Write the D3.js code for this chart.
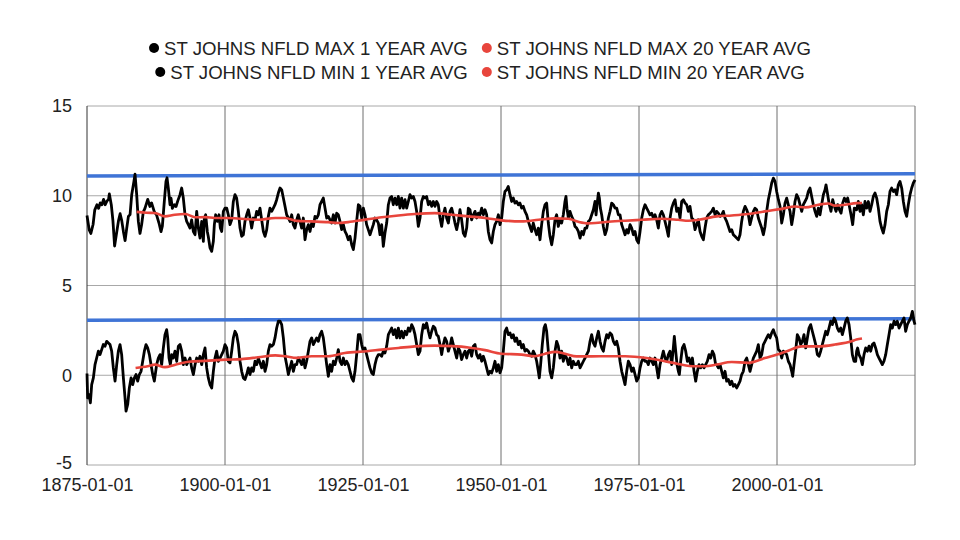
<!DOCTYPE html>
<html><head><meta charset="utf-8">
<script src="https://cdn.jsdelivr.net/npm/d3@7"></script>
<style>body{margin:0;background:#fff}svg{display:block;font-family:"Liberation Sans",Arial,sans-serif}</style>
</head><body><svg id="c" width="960" height="540"></svg>
<script>
const seriesNames = ["ST JOHNS NFLD MAX 1 YEAR AVG","ST JOHNS NFLD MAX 20 YEAR AVG","ST JOHNS NFLD MIN 1 YEAR AVG","ST JOHNS NFLD MIN 20 YEAR AVG"];
const yTicks = [-5,0,5,10,15];
const xTickYears = [1875,1900,1925,1950,1975,2000];
const xTickLabels = ["1875-01-01","1900-01-01","1925-01-01","1950-01-01","1975-01-01","2000-01-01"];

const max1 = [[1875.0,8.9],[1875.4,8.1],[1875.7,7.9],[1876.1,8.4],[1876.4,9.2],[1876.8,9.5],[1877.1,9.3],[1877.4,9.6],[1877.7,9.5],[1878.0,9.8],[1878.3,9.5],[1878.6,9.7],[1878.9,9.8],[1879.05,10.1],[1879.4,9.5],[1879.7,8.6],[1880.0,7.2],[1880.4,8.0],[1880.7,8.6],[1881.0,9.0],[1881.3,8.6],[1881.6,8.0],[1881.9,7.5],[1882.2,8.2],[1882.5,8.85],[1882.8,8.95],[1883.1,10.06],[1883.5,10.8],[1883.7,11.2],[1884.0,10.06],[1884.3,8.57],[1884.6,7.9],[1884.9,8.4],[1885.2,9.1],[1885.5,9.3],[1886.0,9.8],[1886.4,9.4],[1886.7,9.6],[1887.2,9.1],[1887.6,8.94],
[1888.04,8.48],[1888.41,8.0],[1888.65,8.3],[1889.01,9.7],[1889.31,10.8],[1889.5,11.0],[1889.74,10.4],[1890.04,9.5],[1890.22,9.87],[1890.46,9.3],[1890.82,9.5],[1891.13,9.4],[1891.43,9.7],[1891.85,10.06],[1892.15,10.43],[1892.45,9.87],[1892.76,8.94],[1893.06,8.57],[1893.36,8.39],[1893.66,8.2],[1893.96,8.66],[1894.27,8.0],[1894.57,7.83],[1894.87,9.13],[1895.17,8.2],[1895.47,7.64],[1895.78,8.57],[1896.08,7.46],[1896.26,8.76],[1896.5,8.94],[1896.8,8.0],[1896.98,7.72],[1897.29,7.09],[1897.59,6.9],[1897.89,7.46],[1898.07,8.39],[1898.31,8.94],[1898.62,8.57],[1898.92,8.94],[1899.16,8.2],[1899.4,8.01],[1899.7,9.13],[1900.0,9.31],[1900.31,9.31],
[1900.6,8.94],[1900.91,8.39],[1901.21,8.66],[1901.51,9.68],[1901.81,10.06],[1902.11,9.87],[1902.42,9.13],[1902.72,8.2],[1903.02,7.74],[1903.32,7.83],[1903.62,8.57],[1903.93,8.94],[1904.23,9.22],[1904.53,8.76],[1904.83,8.2],[1905.13,8.76],[1905.44,8.66],[1905.74,9.13],[1906.04,8.94],[1906.34,9.31],[1906.64,8.66],[1906.95,8.01],[1907.25,7.74],[1907.55,8.1],[1907.85,8.85],[1908.15,9.31],[1908.46,9.13],[1908.76,9.31],[1909.06,9.5],[1909.36,9.78],[1909.66,10.15],[1909.97,10.43],[1910.27,10.33],[1910.57,9.87],[1910.87,9.41],[1911.17,8.94],[1911.48,8.76],[1911.78,8.57],[1912.08,8.94],[1912.38,8.39],[1912.68,8.2],[1912.99,8.66],
[1913.28,8.94],[1913.59,8.57],[1913.89,8.2],[1914.19,8.76],[1914.49,7.55],[1914.79,8.11],[1915.1,8.39],[1915.4,8.01],[1915.7,8.48],[1916.0,8.29],[1916.3,8.85],[1916.61,8.76],[1916.91,8.94],[1917.21,9.5],[1917.51,9.68],[1917.81,9.87],[1918.12,9.31],[1918.42,8.76],[1918.72,8.85],[1919.02,8.66],[1919.32,8.48],[1919.63,8.94],[1919.93,8.48],[1920.23,9.03],[1920.53,8.94],[1920.83,8.57],[1921.14,8.11],[1921.44,8.39],[1921.74,8.01],[1922.04,7.83],[1922.34,7.55],[1922.65,7.74],[1922.95,7.27],[1923.25,7.0],[1923.55,7.64],[1923.85,8.57],[1924.16,9.5],[1924.46,9.41],[1924.76,8.76],[1925.06,9.31],[1925.36,8.94],
[1925.66,8.39],[1925.96,8.11],[1926.27,7.83],[1926.57,8.11],[1926.87,8.39],[1927.17,8.76],[1927.47,8.66],[1927.78,8.48],[1928.08,7.83],[1928.38,8.39],[1928.68,7.18],[1928.98,7.92],[1929.29,8.48],[1929.59,9.5],[1929.89,9.87],[1930.19,9.96],[1930.49,9.5],[1930.8,9.87],[1931.1,9.5],[1931.4,9.96],[1931.7,9.31],[1932.0,9.87],[1932.31,9.31],[1932.61,9.78],[1932.91,9.31],[1933.21,9.68],[1933.51,10.06],[1933.82,9.87],[1934.12,9.96],[1934.42,9.68],[1934.72,9.13],[1935.02,8.29],[1935.33,8.76],[1935.63,9.68],[1935.93,9.96],[1936.23,9.87],[1936.53,9.96],[1936.84,9.5],[1937.14,9.68],[1937.44,9.41],[1937.74,9.68],[1938.04,9.41],
[1938.34,9.68],[1938.64,9.5],[1938.95,8.76],[1939.25,8.29],[1939.55,8.94],[1939.85,9.31],[1940.15,8.76],[1940.46,8.48],[1940.76,9.13],[1941.06,9.31],[1941.36,8.94],[1941.66,8.48],[1941.97,8.11],[1942.27,8.57],[1942.57,9.22],[1942.87,8.66],[1943.17,7.92],[1943.48,7.74],[1943.78,8.2],[1944.08,9.31],[1944.38,9.22],[1944.68,8.66],[1944.99,8.94],[1945.29,9.13],[1945.59,8.76],[1945.89,9.03],[1946.19,8.94],[1946.5,9.31],[1946.8,8.94],[1947.1,9.22],[1947.4,8.94],[1947.7,8.01],[1948.01,7.55],[1948.31,7.37],[1948.61,8.01],[1948.91,8.39],[1949.21,8.57],[1949.52,8.94],[1949.82,8.39],[1950.12,8.76],[1950.42,9.68],[1950.72,10.24],
[1951.02,10.33],[1951.32,10.52],[1951.63,10.06],[1951.93,9.68],[1952.23,9.87],[1952.53,9.59],[1952.83,9.68],[1953.14,9.5],[1953.44,9.59],[1953.74,9.31],[1954.04,9.41],[1954.34,9.13],[1954.65,8.94],[1954.95,8.57],[1955.25,8.29],[1955.55,8.01],[1955.85,8.48],[1956.16,8.11],[1956.46,7.83],[1956.76,8.2],[1957.06,7.55],[1957.36,8.39],[1957.67,9.13],[1957.97,9.5],[1958.27,9.59],[1958.57,8.48],[1958.87,7.74],[1959.18,7.27],[1959.48,7.83],[1959.78,8.66],[1960.08,8.94],[1960.38,8.29],[1960.69,8.66],[1960.99,8.48],[1961.29,8.94],[1961.59,9.68],[1961.77,9.96],[1961.95,9.31],[1962.2,8.76],[1962.5,9.13],[1962.8,8.85],[1963.1,8.66],[1963.4,8.29],
[1963.71,8.2],[1964.01,8.01],[1964.32,7.64],[1964.62,8.01],[1964.92,7.83],[1965.22,8.2],[1965.52,8.2],[1965.83,8.57],[1966.13,8.66],[1966.43,8.94],[1966.73,9.22],[1967.03,9.68],[1967.22,8.94],[1967.4,9.5],[1967.64,10.15],[1967.82,9.87],[1968.0,9.31],[1968.24,8.94],[1968.54,8.29],[1968.85,7.83],[1969.15,8.11],[1969.45,8.76],[1969.75,9.13],[1970.05,9.59],[1970.36,9.5],[1970.66,9.31],[1970.96,9.31],[1971.26,8.94],[1971.56,8.94],[1971.87,8.39],[1972.17,8.11],[1972.47,7.83],[1972.77,8.11],[1973.07,7.92],[1973.38,8.39],[1973.68,8.2],[1973.98,7.83],[1974.28,8.01],[1974.58,7.55],[1974.89,7.37],[1975.19,8.01],[1975.49,8.76],[1975.79,9.22],[1976.09,9.5],
[1976.39,9.31],[1976.69,9.13],[1976.99,8.94],[1977.3,9.03],[1977.6,8.76],[1977.9,8.94],[1978.2,8.66],[1978.5,8.2],[1978.81,8.94],[1979.11,9.13],[1979.41,8.94],[1979.71,8.57],[1980.01,8.2],[1980.32,7.74],[1980.62,8.76],[1980.92,9.31],[1981.22,9.59],[1981.53,9.78],[1981.83,9.13],[1982.13,9.31],[1982.43,8.76],[1982.73,9.68],[1983.04,9.78],[1983.34,9.59],[1983.64,9.5],[1983.94,9.13],[1984.24,9.41],[1984.55,8.76],[1984.85,8.66],[1985.15,8.11],[1985.45,8.39],[1985.75,8.66],[1986.06,8.01],[1986.36,7.74],[1986.66,7.55],[1986.96,8.2],[1987.26,8.76],[1987.57,8.94],[1987.87,9.03],[1988.17,9.13],[1988.47,9.31],[1988.77,8.94],
[1989.07,9.13],[1989.37,9.03],[1989.68,8.85],[1989.98,8.94],[1990.28,9.13],[1990.58,8.76],[1990.88,8.57],[1991.19,8.29],[1991.49,8.01],[1991.79,8.11],[1992.09,7.83],[1992.39,7.74],[1992.7,7.64],[1993.0,7.55],[1993.3,7.83],[1993.6,8.57],[1993.9,9.13],[1994.21,9.41],[1994.51,9.22],[1994.81,8.94],[1995.11,8.39],[1995.41,8.76],[1995.72,9.13],[1996.02,9.31],[1996.32,9.22],[1996.62,8.76],[1996.92,8.48],[1997.23,8.2],[1997.53,7.83],[1997.83,8.29],[1998.13,9.13],[1998.43,9.78],[1998.74,10.24],[1999.04,10.71],[1999.34,10.98],[1999.64,10.8],[1999.94,10.24],[2000.25,9.78],[2000.55,9.41],[2000.85,8.48],[2001.15,8.94],[2001.45,9.59],
[2001.75,9.87],[2002.05,9.5],[2002.36,9.13],[2002.66,8.39],[2002.96,8.94],[2003.26,9.68],[2003.56,10.06],[2003.87,9.87],[2004.17,9.5],[2004.47,9.13],[2004.77,9.5],[2005.07,9.68],[2005.38,9.87],[2005.68,10.24],[2005.98,10.43],[2006.28,9.96],[2006.58,9.5],[2006.89,9.13],[2007.19,8.85],[2007.49,9.31],[2007.79,8.94],[2008.09,9.5],[2008.4,10.06],[2008.7,10.33],[2008.88,10.61],[2009.18,10.06],[2009.48,9.5],[2009.78,9.13],[2010.09,9.78],[2010.39,9.41],[2010.69,9.13],[2010.99,9.5],[2011.3,9.22],[2011.6,9.03],[2011.9,9.59],[2012.2,9.87],[2012.5,9.68],[2012.8,9.87],[2013.11,9.41],[2013.41,8.94],[2013.71,8.39],[2014.01,9.31],
[2014.43,9.22],[2014.73,9.68],[2015.04,9.13],[2015.34,9.5],[2015.64,8.94],[2015.94,9.68],[2016.24,9.31],[2016.55,9.68],[2016.85,9.13],[2017.15,9.5],[2017.45,9.96],[2017.75,10.15],[2018.06,9.87],[2018.36,9.31],[2018.66,8.57],[2018.96,8.2],[2019.26,7.92],[2019.57,8.39],[2019.87,9.13],[2020.17,9.5],[2020.47,10.24],[2020.77,10.43],[2021.08,10.24],[2021.38,10.33],[2021.68,10.06],[2021.98,10.61],[2022.28,10.8],[2022.59,10.43],[2022.89,9.68],[2023.19,9.13],[2023.49,8.85],[2023.79,9.5],[2024.1,10.06],[2024.4,10.43],[2024.7,10.71],[2025.0,10.89]];

const min1 = [[1875.0,0.1],[1875.12,-1.26],[1875.36,-1.08],[1875.61,-1.54],[1875.85,-0.52],[1876.15,-0.15],[1876.45,0.59],[1876.75,0.96],[1877.06,1.34],[1877.36,1.15],[1877.66,1.43],[1877.96,1.71],[1878.26,1.62],[1878.57,1.89],[1878.87,1.8],[1879.17,1.71],[1879.47,1.34],[1879.77,0.41],[1880.08,-0.33],[1880.38,0.59],[1880.68,1.34],[1880.98,1.71],[1881.28,1.15],[1881.59,-0.15],[1881.89,-1.26],[1882.07,-2.0],[1882.37,-1.63],[1882.67,-0.71],[1882.98,-0.15],[1883.28,-0.52],[1883.58,-0.15],[1883.88,0.04],[1884.18,-0.33],[1884.48,0.04],[1884.79,0.22],[1885.09,0.78],[1885.39,1.34],[1885.69,1.71],[1885.99,1.52],[1886.3,1.15],[1886.6,0.59],[1886.9,0.04],[1887.2,-0.33],
[1887.62,0.59],[1887.92,0.96],[1888.23,1.15],[1888.53,0.59],[1888.83,1.52],[1889.13,2.26],[1889.43,2.54],[1889.62,2.08],[1889.86,0.96],[1890.1,0.59],[1890.34,1.15],[1890.64,0.96],[1890.94,1.34],[1891.25,0.78],[1891.55,1.62],[1891.85,1.71],[1892.15,1.34],[1892.45,0.59],[1892.76,0.96],[1893.06,0.59],[1893.36,0.78],[1893.66,0.96],[1893.96,0.41],[1894.27,0.04],[1894.57,0.59],[1894.87,0.96],[1895.17,0.78],[1895.47,1.06],[1895.78,0.59],[1896.08,1.15],[1896.38,1.52],[1896.68,0.41],[1896.98,-0.15],[1897.29,-0.52],[1897.59,-0.71],[1897.89,0.22],[1898.19,0.96],[1898.49,1.34],[1898.79,0.78],[1899.1,0.96],[1899.4,1.15],[1899.7,1.34],[1900.0,1.71],[1900.31,1.52],
[1900.6,0.78],[1900.91,0.69],[1901.21,1.34],[1901.51,2.08],[1901.81,2.45],[1902.11,2.26],[1902.42,1.71],[1902.72,0.78],[1903.02,0.22],[1903.32,-0.15],[1903.62,-0.24],[1903.93,0.04],[1904.23,0.41],[1904.53,0.04],[1904.83,0.41],[1905.13,0.22],[1905.44,0.78],[1905.74,0.59],[1906.04,0.96],[1906.34,0.69],[1906.64,0.41],[1906.95,0.78],[1907.25,0.22],[1907.55,0.59],[1907.85,1.34],[1908.15,1.71],[1908.46,1.62],[1908.76,1.71],[1909.06,2.08],[1909.36,2.63],[1909.66,3.01],[1909.97,3.01],[1910.27,2.82],[1910.57,2.08],[1910.87,1.06],[1911.17,0.59],[1911.48,0.04],[1911.78,0.41],[1912.08,0.78],[1912.38,0.22],[1912.68,0.59],
[1912.98,0.59],[1913.28,0.96],[1913.59,0.78],[1913.89,0.59],[1914.19,0.96],[1914.49,0.41],[1914.79,0.78],[1915.1,1.34],[1915.4,1.89],[1915.7,2.08],[1916.0,1.71],[1916.3,1.89],[1916.61,2.08],[1916.91,1.89],[1917.21,2.26],[1917.51,2.45],[1917.81,2.08],[1918.12,1.34],[1918.42,0.59],[1918.72,-0.06],[1919.02,0.59],[1919.32,0.22],[1919.63,0.78],[1919.93,0.59],[1920.23,0.96],[1920.53,1.43],[1920.83,0.78],[1921.14,0.59],[1921.44,0.96],[1921.74,0.59],[1922.04,0.78],[1922.34,0.59],[1922.65,0.22],[1922.95,-0.15],[1923.25,-0.33],[1923.55,0.22],[1923.85,1.15],[1924.16,2.26],[1924.46,2.26],[1924.76,1.71],[1925.06,1.34],[1925.36,1.52],
[1925.66,1.15],[1925.96,0.78],[1926.27,0.41],[1926.57,0.13],[1926.87,0.04],[1927.17,0.59],[1927.47,0.96],[1927.78,1.15],[1928.08,1.15],[1928.38,1.06],[1928.68,1.34],[1928.98,1.24],[1929.29,1.62],[1929.59,2.26],[1929.89,2.45],[1930.19,2.63],[1930.49,2.26],[1930.8,2.54],[1931.1,2.08],[1931.4,2.63],[1931.7,2.08],[1932.0,2.45],[1932.31,2.08],[1932.61,2.45],[1932.91,2.26],[1933.21,2.63],[1933.51,2.45],[1933.82,2.82],[1934.12,2.63],[1934.42,2.26],[1934.72,1.71],[1935.02,1.15],[1935.33,1.34],[1935.63,2.26],[1935.93,2.82],[1936.23,2.63],[1936.53,2.91],[1936.84,2.45],[1937.14,2.08],[1937.44,2.45],[1937.74,2.73],[1938.04,2.63],
[1938.34,2.26],[1938.64,2.17],[1938.95,1.71],[1939.25,1.15],[1939.55,1.71],[1939.85,2.08],[1940.15,1.89],[1940.46,1.34],[1940.76,1.62],[1941.06,2.08],[1941.36,1.71],[1941.66,1.34],[1941.97,0.96],[1942.27,1.52],[1942.57,1.34],[1942.87,0.87],[1943.17,1.15],[1943.48,1.34],[1943.78,0.96],[1944.08,1.34],[1944.38,1.43],[1944.68,1.06],[1944.99,1.62],[1945.29,1.71],[1945.59,1.15],[1945.89,0.96],[1946.19,1.15],[1946.5,0.78],[1946.8,1.06],[1947.1,0.78],[1947.4,0.41],[1947.7,0.04],[1948.01,0.22],[1948.31,0.13],[1948.61,0.41],[1948.91,0.78],[1949.21,0.22],[1949.52,0.59],[1949.82,0.13],[1950.12,0.41],[1950.42,1.34],[1950.72,2.45],
[1951.02,2.63],[1951.32,2.26],[1951.63,2.36],[1951.93,2.08],[1952.23,2.26],[1952.53,1.89],[1952.83,2.08],[1953.14,1.71],[1953.44,1.89],[1953.74,1.52],[1954.04,1.71],[1954.34,1.34],[1954.65,1.43],[1954.95,1.34],[1955.25,1.15],[1955.55,1.06],[1955.85,1.34],[1956.16,1.15],[1956.46,0.78],[1956.76,0.22],[1956.94,-0.15],[1957.18,0.59],[1957.48,1.71],[1957.79,2.63],[1958.03,2.82],[1958.27,2.45],[1958.57,1.34],[1958.87,0.22],[1959.18,-0.15],[1959.48,0.41],[1959.78,1.34],[1960.08,1.89],[1960.38,1.62],[1960.69,0.96],[1960.99,1.34],[1961.29,0.78],[1961.59,1.15],[1961.89,0.96],[1962.2,0.59],[1962.5,0.96],[1962.8,0.41],[1963.1,0.78],[1963.4,0.59],
[1963.71,0.59],[1964.01,0.78],[1964.32,0.41],[1964.62,0.59],[1964.92,0.78],[1965.22,0.96],[1965.52,1.15],[1965.83,1.34],[1966.13,1.89],[1966.43,2.26],[1966.73,1.8],[1967.03,1.62],[1967.34,2.08],[1967.64,2.45],[1967.94,1.89],[1968.24,1.52],[1968.54,1.34],[1968.85,1.89],[1969.15,2.26],[1969.45,2.08],[1969.75,2.36],[1970.05,2.26],[1970.36,1.89],[1970.66,1.71],[1970.96,1.89],[1971.26,1.52],[1971.56,0.78],[1971.87,0.22],[1972.17,-0.15],[1972.47,-0.52],[1972.77,0.22],[1973.07,0.78],[1973.38,0.59],[1973.68,0.22],[1973.98,0.41],[1974.28,0.04],[1974.58,-0.33],[1974.89,-0.15],[1975.19,0.41],[1975.49,0.78],[1975.79,0.96],[1976.09,0.78],
[1976.39,0.78],[1976.69,0.59],[1976.99,0.96],[1977.3,0.78],[1977.6,0.59],[1977.9,0.96],[1978.2,0.41],[1978.5,-0.15],[1978.81,0.59],[1979.11,0.96],[1979.41,1.34],[1979.71,0.96],[1980.02,0.78],[1980.32,1.15],[1980.62,1.34],[1980.92,0.59],[1981.22,1.52],[1981.4,2.17],[1981.65,1.34],[1981.89,0.59],[1982.13,0.22],[1982.31,0.04],[1982.55,0.78],[1982.85,1.52],[1983.16,1.71],[1983.46,1.34],[1983.76,0.78],[1984.06,0.96],[1984.36,0.59],[1984.67,0.96],[1984.97,0.22],[1985.27,-0.33],[1985.57,0.22],[1985.87,0.59],[1986.18,0.41],[1986.48,0.59],[1986.78,0.41],[1987.08,0.59],[1987.38,0.78],[1987.69,1.15],[1987.99,0.96],[1988.29,1.34],[1988.59,1.15],[1988.89,0.59],
[1989.07,0.59],[1989.37,0.41],[1989.68,0.59],[1989.98,0.22],[1990.28,-0.15],[1990.58,0.22],[1990.88,-0.33],[1991.19,-0.24],[1991.49,-0.52],[1991.79,-0.33],[1992.09,-0.61],[1992.39,-0.52],[1992.7,-0.71],[1993.0,-0.52],[1993.3,-0.33],[1993.6,0.04],[1993.9,0.22],[1994.21,0.78],[1994.51,0.96],[1994.81,0.59],[1995.11,0.22],[1995.41,0.59],[1995.72,0.96],[1996.02,1.15],[1996.32,1.34],[1996.62,1.71],[1996.92,0.96],[1997.23,1.15],[1997.53,1.71],[1997.83,1.89],[1998.13,2.08],[1998.43,2.26],[1998.74,2.08],[1999.04,2.36],[1999.34,2.54],[1999.64,2.26],[1999.94,2.08],[2000.25,1.43],[2000.55,1.34],[2000.85,0.96],[2001.15,1.34],[2001.45,1.24],
[2001.75,1.15],[2002.05,0.78],[2002.36,0.59],[2002.66,0.22],[2002.84,-0.06],[2003.08,0.59],[2003.38,1.34],[2003.68,2.26],[2003.99,2.08],[2004.29,1.71],[2004.59,1.89],[2004.89,2.26],[2005.2,1.52],[2005.5,2.08],[2005.8,2.63],[2006.1,2.82],[2006.4,2.45],[2006.71,2.08],[2007.01,1.71],[2007.31,1.15],[2007.61,1.06],[2007.91,1.34],[2008.21,1.71],[2008.52,2.08],[2008.82,2.45],[2009.12,2.26],[2009.42,2.63],[2009.72,3.01],[2010.03,2.82],[2010.33,3.19],[2010.63,3.01],[2010.93,2.63],[2011.23,2.45],[2011.54,2.63],[2011.84,2.26],[2012.14,2.63],[2012.44,3.01],[2012.74,3.19],[2013.05,2.82],[2013.35,2.08],[2013.65,1.15],[2013.95,0.78],[2014.25,0.78],
[2014.43,1.34],[2014.61,1.52],[2014.85,1.15],[2015.16,0.96],[2015.46,0.59],[2015.76,1.15],[2016.06,1.52],[2016.36,1.34],[2016.67,1.62],[2016.97,1.34],[2017.27,1.71],[2017.57,1.8],[2017.87,1.52],[2018.18,1.15],[2018.48,0.96],[2018.78,0.78],[2019.08,0.59],[2019.38,0.78],[2019.69,1.15],[2019.99,1.71],[2020.29,2.26],[2020.59,2.82],[2020.89,2.63],[2021.2,3.01],[2021.5,2.82],[2021.8,3.01],[2022.1,2.63],[2022.4,2.82],[2022.71,3.01],[2023.01,3.19],[2023.31,2.45],[2023.61,2.82],[2023.91,3.01],[2024.22,3.19],[2024.52,3.56],[2024.82,3.01],[2025.0,2.82]];

const max20 = [[1884.0,9.1],[1885.8,9.05],[1887.3,9.04],[1889.1,8.85],[1890.9,8.94],[1892.8,8.98],[1894.6,8.8],[1896.4,8.81],[1898.2,8.76],[1900.3,8.76],[1903.0,8.72],[1906.0,8.66],[1909.1,8.76],[1910.9,8.76],[1913.0,8.6],[1915.7,8.57],[1918.7,8.53],[1920.5,8.48],[1922.3,8.53],[1925.4,8.67],[1928.4,8.8],[1931.4,8.9],[1934.4,8.98],[1938.0,9.03],[1941.1,8.94],[1944.1,8.85],[1947.1,8.76],[1950.1,8.63],[1953.7,8.57],[1956.8,8.66],[1959.8,8.74],[1962.2,8.72],[1964.0,8.55],[1965.8,8.46],[1967.6,8.5],[1969.5,8.55],[1972.5,8.61],[1975.5,8.66],[1979.1,8.72],[1982.1,8.66],[1984.0,8.61],[1985.8,8.66],[1989.1,8.85],[1991.8,8.9],[1994.8,8.98],[1997.8,9.13],[2000.9,9.27],[2003.3,9.4],[2005.1,9.35],[2007.5,9.5],[2009.3,9.57],[2010.5,9.45],[2012.3,9.5],[2014.4,9.59],[2015.4,9.6]];

const min20 = [[1883.8,0.4],[1886.0,0.5],[1887.3,0.59],[1889.1,0.45],[1891.0,0.59],[1893.4,0.75],[1896.4,0.8],[1900.3,0.87],[1903.0,0.9],[1906.0,1.0],[1909.1,1.11],[1910.9,1.06],[1913.0,0.97],[1915.7,1.06],[1918.7,1.06],[1921.7,1.24],[1925.7,1.34],[1928.4,1.43],[1931.4,1.52],[1934.4,1.61],[1938.0,1.65],[1941.1,1.62],[1944.1,1.55],[1947.1,1.4],[1950.1,1.2],[1953.7,1.15],[1956.2,1.06],[1958.0,1.2],[1959.8,1.3],[1961.6,1.2],[1963.7,1.05],[1966.4,1.05],[1969.5,1.06],[1972.5,1.06],[1976.4,0.96],[1979.1,0.82],[1982.1,0.63],[1985.1,0.5],[1987.0,0.5],[1989.1,0.6],[1991.8,0.74],[1994.8,0.69],[1997.8,0.96],[2000.9,1.24],[2001.8,1.34],[2004.5,1.61],[2007.5,1.61],[2010.5,1.71],[2013.5,1.89],[2014.4,1.99],[2015.4,2.05]];

const maxRecord = [[1875,11.1],[2025,11.22]];
const minRecord = [[1875,3.07],[2025,3.15]];

const svg = d3.select("#c");
const L = 87, R = 915, T = 106, B = 465;
const FONT = "Liberation Sans, Arial, sans-serif";
const x = d3.scaleLinear().domain([1875, 2025]).range([L, R]);
const y = d3.scaleLinear().domain([-5, 15]).range([B, T]);

svg.append("g").selectAll("line").data(yTicks).join("line")
  .attr("x1", L).attr("x2", R).attr("y1", d => y(d)).attr("y2", d => y(d))
  .attr("stroke", "#a8a8a8").attr("stroke-width", 1);
svg.append("g").selectAll("line").data(xTickYears.slice(1).concat([2025])).join("line")
  .attr("x1", d => x(d)).attr("x2", d => x(d)).attr("y1", T).attr("y2", B)
  .attr("stroke", "#6e6e6e").attr("stroke-width", 1);
svg.append("line").attr("x1", L).attr("x2", L).attr("y1", T).attr("y2", B).attr("stroke", "#333").attr("stroke-width", 1);

const yAxis = d3.axisLeft(y).tickValues(yTicks).tickSize(0).tickPadding(15).tickFormat(d => String(d));
const ya = svg.append("g").attr("transform", `translate(${L},0)`).call(yAxis);
ya.select(".domain").remove();
ya.selectAll("text").attr("font-size", 18).attr("fill", "#222").attr("font-family", FONT);
ya.selectAll(".tick").filter(d => d === -5).select("text").attr("dy", "0.2em");

const xAxis = d3.axisBottom(x).tickValues(xTickYears).tickSize(0).tickPadding(13)
  .tickFormat((d, i) => xTickLabels[i]);
const xa = svg.append("g").attr("transform", `translate(0,${B})`).call(xAxis);
xa.select(".domain").remove();
xa.selectAll("text").attr("font-size", 18).attr("fill", "#222").attr("font-family", FONT);

const line = d3.line().x(d => x(d[0])).y(d => y(d[1]));
const smooth = d3.line().x(d => x(d[0])).y(d => y(d[1])).curve(d3.curveMonotoneX);
const plot = svg.append("g");
plot.append("path").datum(maxRecord).attr("d", line).attr("fill", "none").attr("stroke", "#3f74d6").attr("stroke-width", 3.5);
plot.append("path").datum(minRecord).attr("d", line).attr("fill", "none").attr("stroke", "#3f74d6").attr("stroke-width", 3.5);
plot.append("path").datum(max1).attr("d", line).attr("fill", "none").attr("stroke", "#000").attr("stroke-width", 2.8).attr("stroke-linejoin", "round");
plot.append("path").datum(min1).attr("d", line).attr("fill", "none").attr("stroke", "#000").attr("stroke-width", 2.8).attr("stroke-linejoin", "round");
plot.append("path").datum(max20).attr("d", smooth).attr("fill", "none").attr("stroke", "#e8453c").attr("stroke-width", 2.6);
plot.append("path").datum(min20).attr("d", smooth).attr("fill", "none").attr("stroke", "#e8453c").attr("stroke-width", 2.6);

const legendColors = ["#000", "#e8453c", "#000", "#e8453c"];
const rows = [[0, 1], [2, 3]];
const rowY = [48, 72];
rows.forEach((r, ri) => {
  const g = svg.append("g");
  let cx = 0;
  r.forEach(i => {
    const it = g.append("g").attr("transform", `translate(${cx},0)`);
    it.append("circle").attr("cx", 5).attr("cy", 0).attr("r", 5).attr("fill", legendColors[i]);
    const t = it.append("text").attr("x", 15).attr("y", 6.5).attr("font-size", 18.6).attr("font-family", FONT).attr("fill", "#222").text(seriesNames[i]);
    cx += 15 + t.node().getComputedTextLength() + 14;
  });
  const total = cx - 14;
  g.attr("transform", `translate(${480 - total / 2},${rowY[ri]})`);
});
</script></body></html>
